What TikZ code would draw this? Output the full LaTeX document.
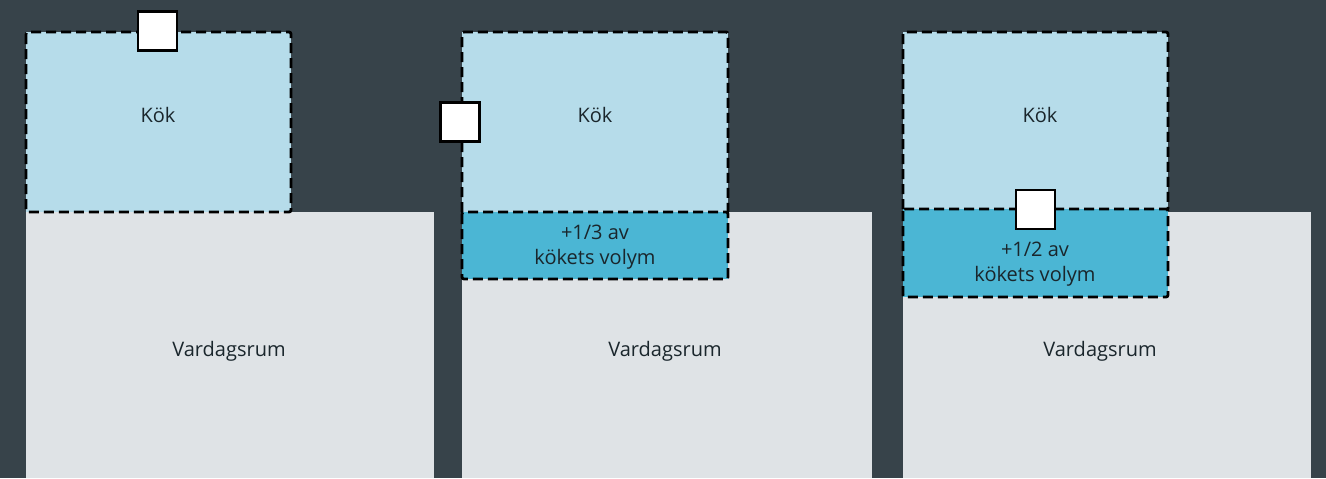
\documentclass[tikz,border=0pt]{standalone}
\usepackage{fontspec}
\setmainfont{Open Sans}
\definecolor{bg}{HTML}{37434A}
\definecolor{vardag}{HTML}{DFE3E6}
\definecolor{kok}{HTML}{B6DCEA}
\definecolor{extra}{HTML}{4BB6D4}
\definecolor{txt}{HTML}{1A262C}
\tikzset{
  wall/.style={dash pattern=on 5pt off 2.5pt, line width=1.4pt, rounded corners=1pt},
  sensor/.style={draw, fill=white, line width=1.2pt, minimum size=19.5pt, inner sep=0pt},
  label/.style={text=txt, align=center, font=\fontsize{10}{12.5}\selectfont}
}
\begin{document}
\begin{tikzpicture}[x=0.5pt, y=-0.5pt]
% Background
\fill[bg] (0,0) rectangle (1326,478);
\useasboundingbox (0,0) rectangle (1326,478);
% Draw living rooms
\fill[vardag] (26,212) rectangle (434,478);
\fill[vardag] (462,212) rectangle (872,478);
\fill[vardag] (903,212) rectangle (1311,478);
% Draw kitchens
\fill[kok] (26,32) rectangle (291,212);
\fill[kok] (462,32) rectangle (728,212);
\fill[kok] (903,32) rectangle (1168,209);
% Draw extra volume
\fill[extra] (462,212) rectangle (728,279);
\fill[extra] (903,209) rectangle (1168,297);
% Draw dashed borders
\draw[wall] (26,32) rectangle (291,212);
\draw[wall] (462,212) -- (462,32) -- (728,32) -- (728,212);
\draw[wall] (462,212) rectangle (728,279);
\draw[wall] (903,209) -- (903,32) -- (1168,32) -- (1168,209);
\draw[wall] (903,209) rectangle (1168,297);
% Labels
\node[label] (kokA) at (158,115) {Kök};
\node[label] (kokB) at (595,115) {Kök};
\node[label] (kokC) at (1040,115) {Kök};
\node[label] (extraB) at (595,247) {+1/3 av\\kökets volym};
\node[label] (extraC) at (1035,264) {+1/2 av\\kökets volym};
\node[label] (vardagA) at (229,351) {Vardagsrum};
\node[label] (vardagB) at (665,351) {Vardagsrum};
\node[label] (vardagC) at (1100,351) {Vardagsrum};
% Draw sensors
\node[sensor] (sensorA) at (157.5,31) {};
\node[sensor] (sensorB) at (460,122) {};
\node[sensor] (sensorC) at (1035.5,209.5) {};
\end{tikzpicture}
\end{document}
